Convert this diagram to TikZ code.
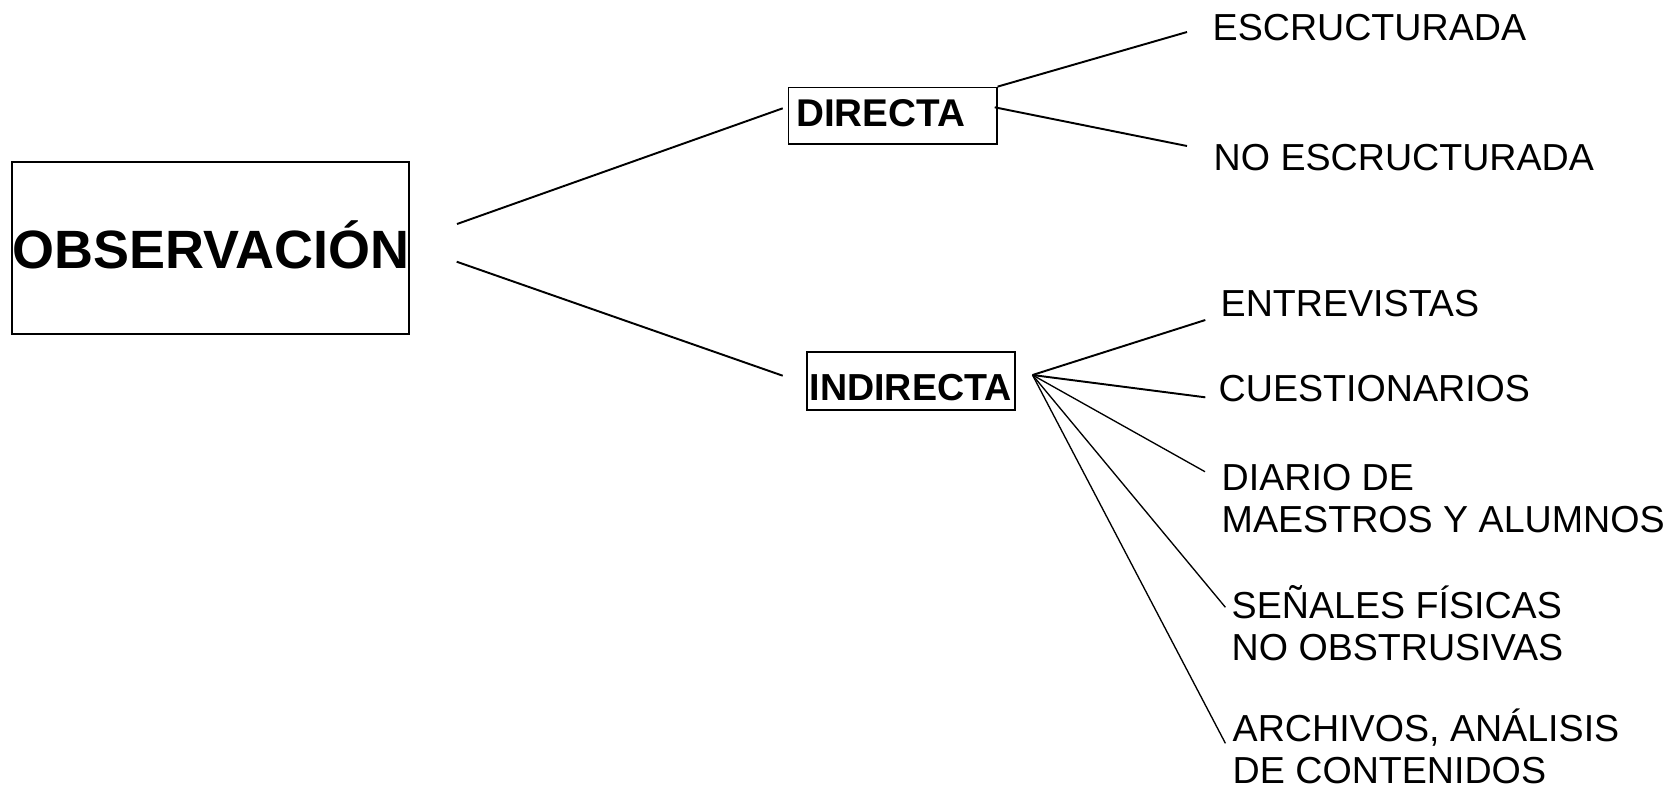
\documentclass[tikz,border=0pt]{standalone}
\usepackage{fontspec}
\setmainfont{Liberation Sans}
\usepackage{tikz}

\begin{document}
\begin{tikzpicture}[x=1cm,y=-1cm,
	catbox/.style={draw,line width=0.5pt,inner xsep=0pt,inner ysep=0pt,text depth=0pt,
		font=\bfseries\fontsize{10.8}{12}\selectfont},
	item/.style={anchor=base west,inner sep=0pt,align=left,
		font=\fontsize{10.7}{11.9}\selectfont},
	link/.style={line width=0.55pt},
	thinlink/.style={line width=0.38pt}]
	\useasboundingbox (0,0) rectangle (16.77,7.93);
	\draw (2.108,2.479) node[catbox,line width=0.57pt,minimum width=3.956cm,minimum height=1.723cm,
		text height=11.64pt,font=\bfseries\fontsize{15.35}{18}\selectfont] (obs) {OBSERVACIÓN};
	\draw (8.926,1.1575) node[catbox,inner xsep=0.078cm,text width=1.926cm,align=left,
		minimum height=0.565cm,text height=5.83pt,font=\bfseries\fontsize{11}{12}\selectfont] (dir) {DIRECTA};
	\draw (9.1075,3.8085) node[catbox,minimum width=2.079cm,minimum height=0.583cm,
		text height=11.3pt,font=\bfseries\fontsize{10.7}{12}\selectfont] (ind) {INDIRECTA};
	\draw (12.12,0.407) node[item] (dirA) {ESCRUCTURADA};
	\draw (12.13,1.707) node[item] (dirB) {NO ESCRUCTURADA};
	\draw (12.20,3.160) node[item] (ind1) {ENTREVISTAS};
	\draw (12.18,4.017) node[item] (ind2) {CUESTIONARIOS};
	% two-line items sit on their last line
	\draw (12.21,5.327) node[item] (ind3) {DIARIO DE\\MAESTROS Y ALUMNOS};
	\draw (12.31,6.600) node[item] (ind4) {SEÑALES FÍSICAS\\NO OBSTRUSIVAS};
	\draw (12.32,7.833) node[item] (ind5) {ARCHIVOS, ANÁLISIS\\DE CONTENIDOS};
	% free ends of the connectors
	\coordinate (obsA) at (4.570,2.240);
	\coordinate (obsB) at (4.567,2.617);
	\coordinate (dirIn) at (7.827,1.083);
	\coordinate (indIn) at (7.827,3.757);
	\coordinate (dirOut) at (9.947,1.073);
	\coordinate (hub) at (10.325,3.750);
	\coordinate (dirAend) at (11.870,0.320);
	\coordinate (dirBend) at (11.870,1.460);
	\coordinate (ind1end) at (12.053,3.200);
	\coordinate (ind2end) at (12.053,3.973);
	\coordinate (ind3end) at (12.050,4.717);
	\coordinate (ind4end) at (12.254,6.073);
	\coordinate (ind5end) at (12.254,7.433);
	\draw[link] (obsA) edge (dirIn);
	\draw[link] (obsB) edge (indIn);
	\draw[link] (dir.north east) edge (dirAend);
	\draw[link] (dirOut) edge (dirBend);
	\draw[link] (hub) edge (ind1end);
	\draw[link] (hub) edge (ind2end);
	\draw[thinlink] (hub) edge (ind3end);
	\draw[thinlink] (hub) edge (ind4end);
	\draw[thinlink] (hub) edge (ind5end);
\end{tikzpicture}
\end{document}
